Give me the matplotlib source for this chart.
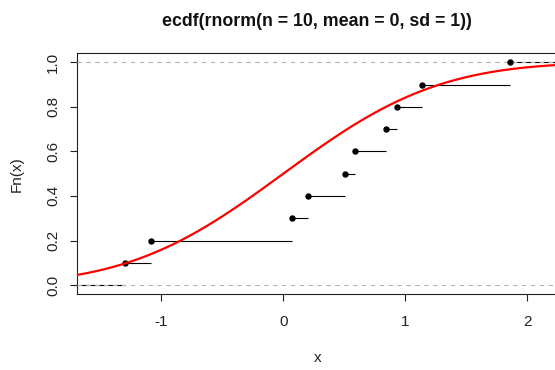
import numpy as np
import matplotlib
matplotlib.use("Agg")
import matplotlib.pyplot as plt
from math import erf, sqrt

# data: sorted sample values (knots)
knots = [-1.295, -1.085, 0.072, 0.202, 0.503, 0.590, 0.839, 0.932, 1.139, 1.861]
fn_values = [0.1, 0.2, 0.3, 0.4, 0.5, 0.6, 0.7, 0.8, 0.9, 1.0]
xticks = [-1, 0, 1, 2]
yticks = [0.0, 0.2, 0.4, 0.6, 0.8, 1.0]
title = "ecdf(rnorm(n = 10, mean = 0, sd = 1))"

plt.rcParams['font.family'] = ['Liberation Sans', 'DejaVu Sans']

W, H = 555, 370
fig = plt.figure(figsize=(W / 100, H / 100), dpi=100)

# R plot.stepfun style limits
k = np.array(knots)
rng = k.max() - k.min()
dr = max(0.08 * rng, np.median(np.diff(k)))
lo, hi = k.min() - dr, k.max() + dr
ext = 0.04 * (hi - lo)
xlim = (lo - ext, hi + ext)
ylim = (-0.04, 1.04)

left_px, bottom_px, top_px = 76.7, 294.0, 53.3
px_per_unit = 122.0
right_px = left_px + (xlim[1] - xlim[0]) * px_per_unit
ax = fig.add_axes([left_px / W, (H - bottom_px) / H,
                   (right_px - left_px) / W, (bottom_px - top_px) / H])
ax.set_xlim(*xlim)
ax.set_ylim(*ylim)

# step segments
left_edges = [xlim[0]] + knots
right_edges = knots + [xlim[1]]
levels = [0.0] + fn_values
for x0, x1, yv in zip(left_edges, right_edges, levels):
    ax.plot([x0, x1], [yv, yv], color='black', lw=0.8, solid_capstyle='butt', zorder=2)
ax.plot(knots, fn_values, 'o', color='black', ms=3.6, zorder=4)

# 0 / 1 reference lines
for yv in (0.0, 1.0):
    ax.axhline(yv, color='#b3b3b3', lw=0.8, ls=(0, (4, 4)), zorder=3)

# normal CDF curve
xs = np.linspace(xlim[0], xlim[1], 400)
ys = np.array([0.5 * (1 + erf(v / sqrt(2))) for v in xs])
ax.plot(xs, ys, color='red', lw=1.6, zorder=5)

ax.set_xticks(xticks)
ax.set_xticklabels([str(t) for t in xticks])
ax.set_yticks(yticks)
ax.set_yticklabels([f"{t:.1f}" for t in yticks], rotation=90, va='center')
ax.tick_params(axis='both', direction='out', length=5, width=0.8,
               labelsize=11, colors='#222222')
ax.tick_params(axis='x', pad=10)
ax.tick_params(axis='y', pad=7)
for s in ax.spines.values():
    s.set_linewidth(0.8)
    s.set_color('#222222')
ax.spines['right'].set_visible(False)

fig.text(317 / W, 1 - 21 / H, title, ha='center', va='center',
         fontsize=12.8, fontweight='bold', color='#111111')
fig.text(318 / W, 1 - 358 / H, 'x', ha='center', va='center', fontsize=11,
         color='#222222')
fig.text(17 / W, 1 - 174 / H, 'Fn(x)', ha='center', va='center', fontsize=11,
         rotation=90, color='#222222')

fig.savefig('out.png', dpi=100)
